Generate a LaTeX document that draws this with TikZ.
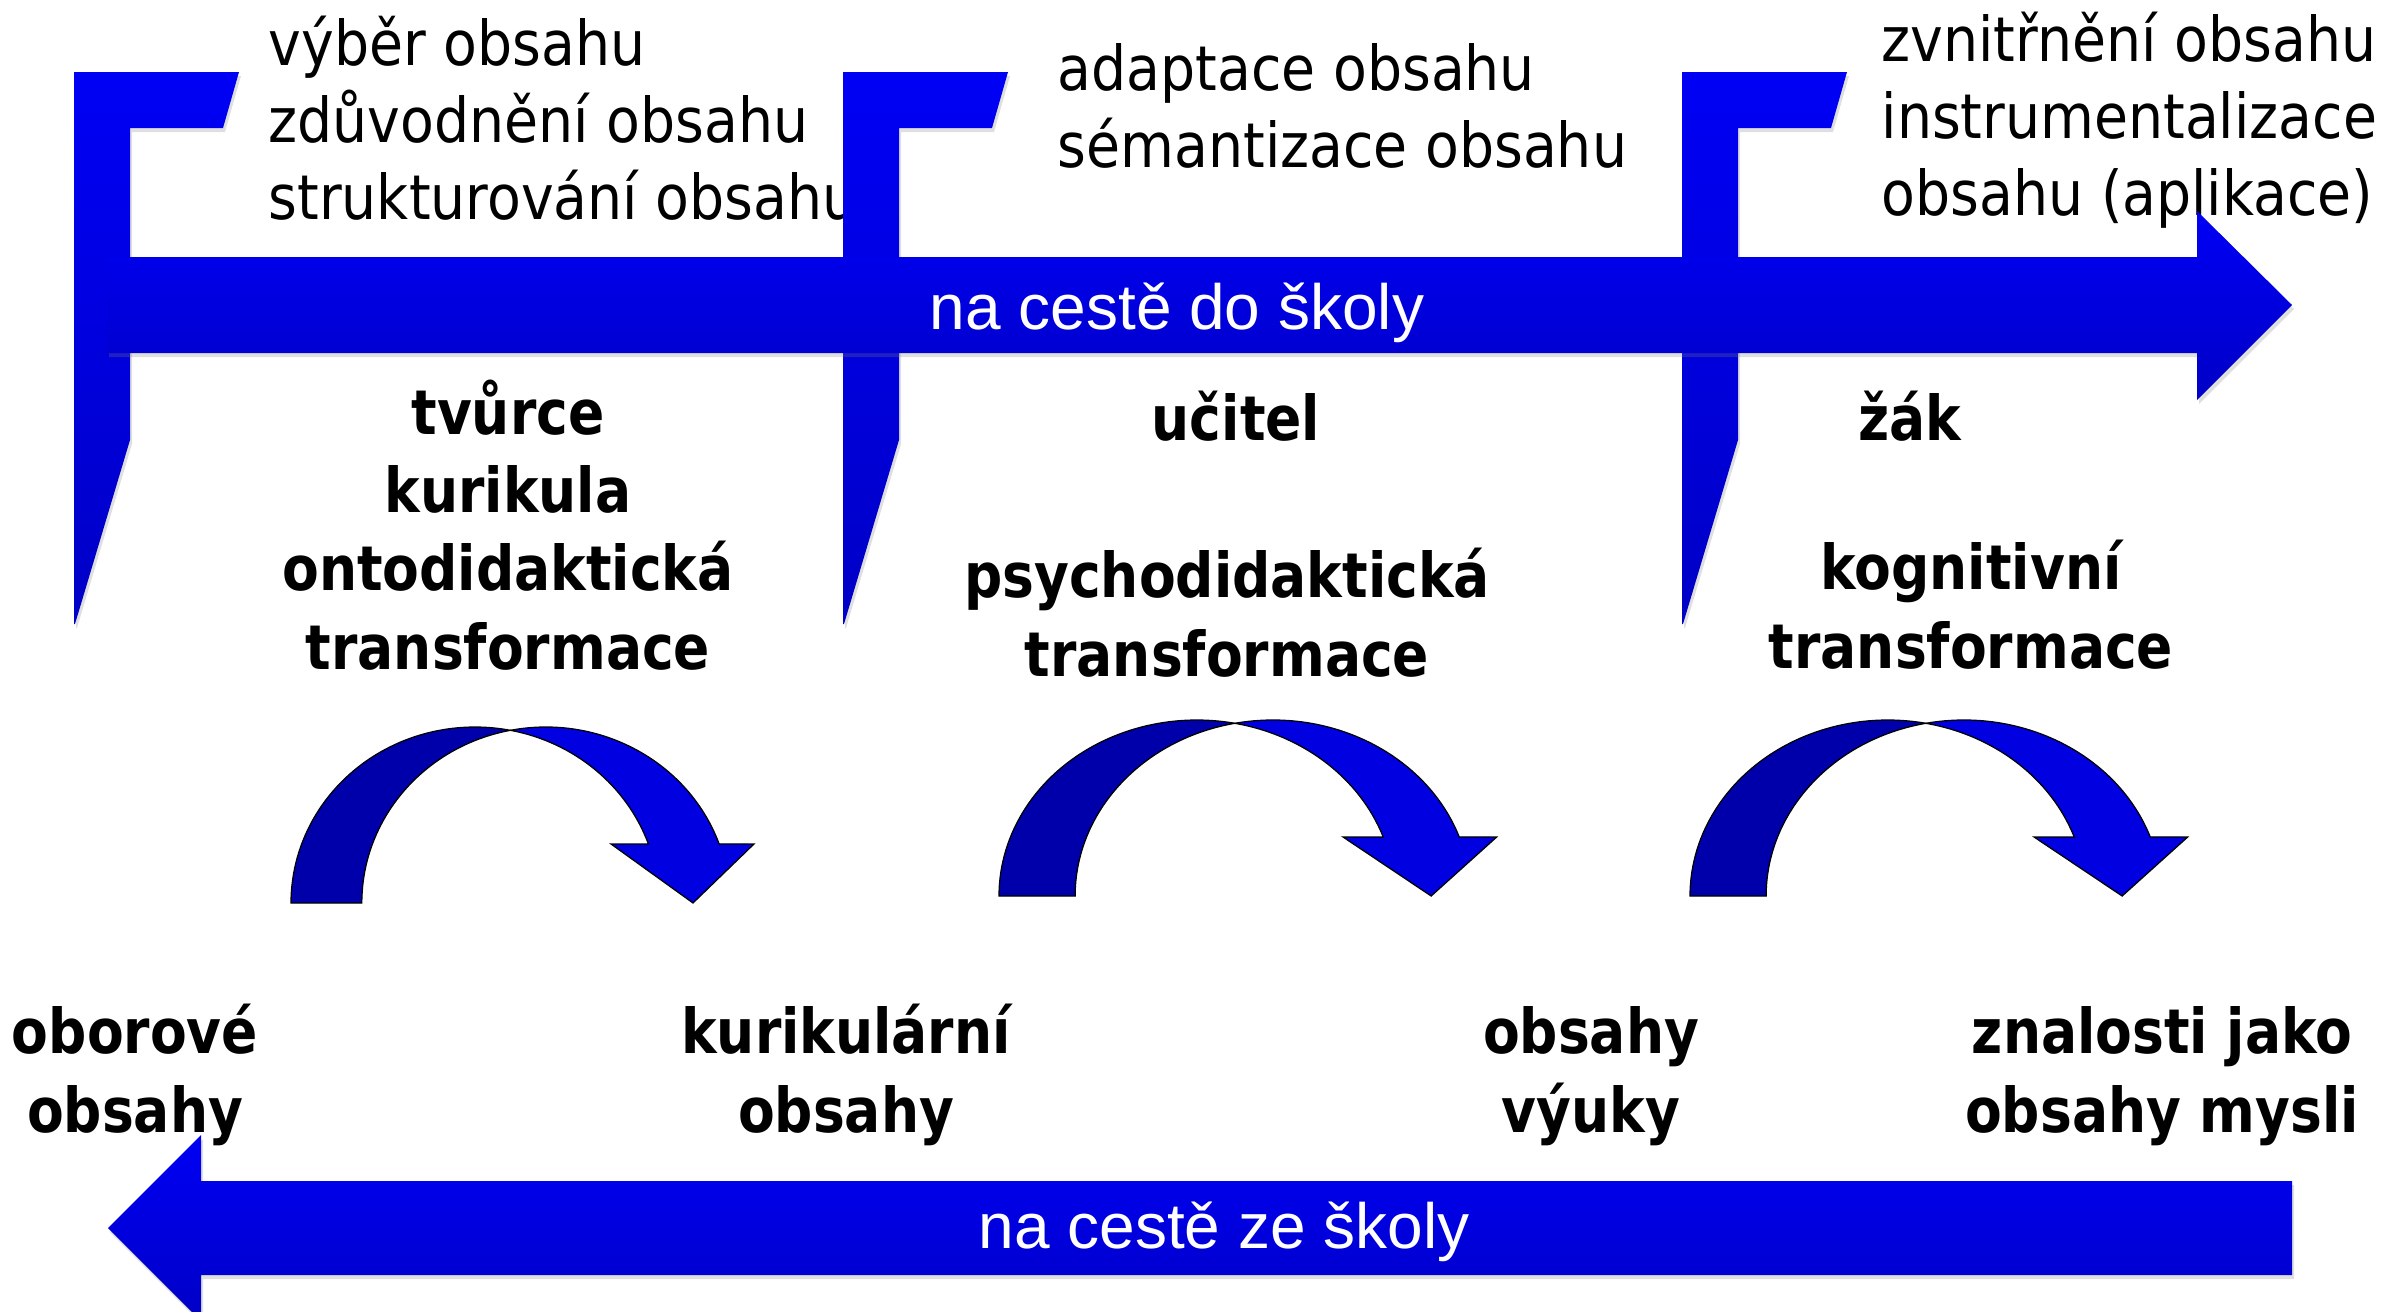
\documentclass[tikz,border=0pt]{standalone}
\usepackage{fontspec}
\usepackage{xcolor}
\usepackage{tikz}
\usetikzlibrary{calc, shadows, positioning}
\newfontfamily\slidefont[FakeStretch=0.894]{DejaVu Sans}
\newfontfamily\slidebold[FakeStretch=0.865]{DejaVu Sans}
\newfontfamily\roadfont{Liberation Sans}
\definecolor{roadtop}{RGB}{0,0,245}
\definecolor{roadbottom}{RGB}{0,0,198}
\definecolor{bendback}{RGB}{0,0,170}
\definecolor{bendfront}{RGB}{0,0,224}
\tikzset{
    roadshape/.style = {draw=none, top color=roadtop, bottom color=roadbottom,
      drop shadow={opacity=0.25, shadow xshift=0.2mm, shadow yshift=-0.4mm}},
    bendback/.style = {draw=black, line width=0.35pt, fill=bendback},
    bendfront/.style = {draw=black, line width=0.35pt, fill=bendfront},
    stepnode/.style = {draw=none, fill=none, rectangle, inner sep=0em, align=left,
      font=\slidefont\fontsize{17.6}{21.9}\selectfont},
    actornode/.style = {draw=none, fill=none, rectangle, inner sep=0em, align=center,
      font=\slidebold\bfseries\fontsize{17.6}{22.2}\selectfont},
    roadnode/.style = {draw=none, fill=none, rectangle, inner sep=0em, text=white,
      font=\roadfont\fontsize{18.2}{22}\selectfont}
}
% flag pole: #1 = left edge
\newcommand{\flagpole}[1]{%
  \path[roadshape] (#1,72) -- ++(165,0) -- ++(-16,56) -- ++(-93,0) -- ++(0,312)
    -- ++(-55,184) -- ++(-1,0) -- cycle;
}
% bent arrow: #1,#2 = outer left foot, #3 = horizontal stretch
\newcommand{\bendarrow}[3]{%
  \begin{scope}[shift={(#1,#2)}, xscale=#3]
    \draw[bendback] (0,0) arc[start angle=180, end angle=78.9, x radius=18.4mm, y radius=17.6mm]
      arc[start angle=101.1, end angle=180, x radius=18.4mm, y radius=17.6mm] -- cycle;
    \draw[bendfront] (219.4,-172.7) arc[start angle=101.1, end angle=19.6, x radius=18.4mm, y radius=17.6mm]
      -- (463,-59) -- (402,0) -- (320,-59) -- (357.4,-59)
      arc[start angle=19.6, end angle=78.9, x radius=18.4mm, y radius=17.6mm] -- cycle;
  \end{scope}
}

\begin{document}
\begin{tikzpicture}[x=0.1mm, y=-0.1mm]
    \useasboundingbox (0,0) rectangle (2381,1312);

    % anchor=base is the baseline of the last line
    \node [name=choose, stepnode, anchor=base west] at (268,219)
        {výběr obsahu\\zdůvodnění obsahu\\strukturování obsahu};
    \node [name=adapt, stepnode, anchor=base west] at (1057,167)
        {adaptace obsahu\\sémantizace obsahu};
    \node [name=absorb, stepnode, anchor=base west] at (1881,215)
        {zvnitřnění obsahu\\instrumentalizace\\obsahu (aplikace)};

    \flagpole{74}
    \flagpole{843}
    \flagpole{1682}

    \path[roadshape] (107,257) -- (2197,257) -- (2197,211) -- (2292,305)
        -- (2197,400) -- (2197,353) -- (107,353) -- cycle;
    \node [name=toschool, roadnode, anchor=base] at (1177,329) {na cestě do školy};

    \node [name=creator, actornode, anchor=base] at (508,669)
        {tvůrce\\kurikula\\ontodidaktická\\transformace};
    \node [name=teacher, actornode, anchor=base] at (1236,440) {učitel};
    \node [name=pupil, actornode, anchor=base] at (1910,440) {žák};
    \node [name=psycho, actornode, anchor=base] at (1227,676)
        {psychodidaktická\\transformace};
    \node [name=cognitive, actornode, anchor=base] at (1971,668)
        {kognitivní\\transformace};

    \bendarrow{291}{903}{1}
    \bendarrow{999}{896}{1.075}
    \bendarrow{1690}{896}{1.075}

    \node [name=field, actornode, anchor=base] at (135,1132) {oborové\\obsahy};
    \node [name=curric, actornode, anchor=base] at (846,1132) {kurikulární\\obsahy};
    \node [name=lesson, actornode, anchor=base] at (1591,1132) {obsahy\\výuky};
    \node [name=mind, actornode, anchor=base] at (2162,1132) {znalosti jako\\obsahy mysli};

    \path[roadshape] (2292,1181) -- (201,1181) -- (201,1135) -- (108,1228)
        -- (201,1321) -- (201,1275) -- (2292,1275) -- cycle;
    \node [name=fromschool, roadnode, anchor=base] at (1224,1248) {na cestě ze školy};
\end{tikzpicture}
\end{document}
